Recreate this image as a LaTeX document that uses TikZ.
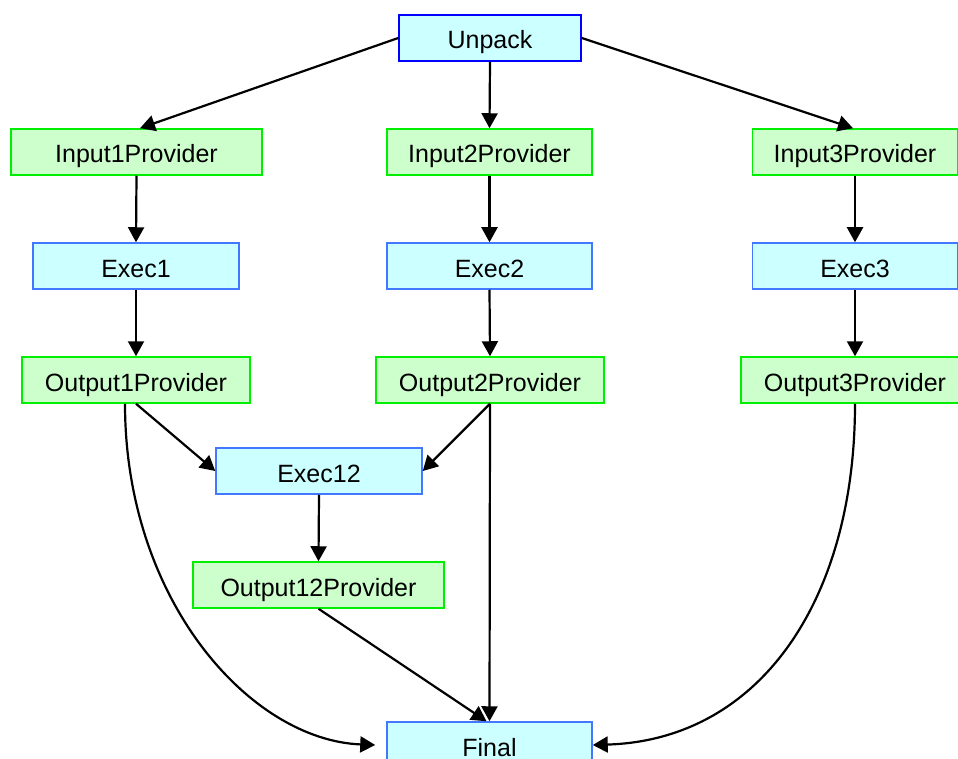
\documentclass[tikz,border=0pt]{standalone}
\usepackage{fontspec}
\setmainfont{Liberation Sans}
\usetikzlibrary{arrows.meta,calc}
\definecolor{cyanfill}{HTML}{CCFFFF}
\definecolor{greenfill}{HTML}{CCFFCC}
\definecolor{greenline}{HTML}{00EE00}
\definecolor{blueline}{HTML}{0000FF}
\definecolor{execline}{HTML}{4477FF}
\tikzset{
  box/.style={rectangle, minimum height=46pt, inner sep=0pt, line width=1.5pt,
    text height=22pt, text depth=0pt, font=\fontsize{25}{29}\selectfont},
  topbox/.style={box, draw=blueline, fill=cyanfill},
  execbox/.style={box, draw=execline, fill=cyanfill},
  provbox/.style={box, draw=greenline, fill=greenfill},
  conn/.style={line width=2.2pt, -{Triangle[length=15pt,width=16pt]}}
}
\begin{document}
\begin{tikzpicture}[x=1pt,y=-1pt]
\useasboundingbox (0,0) rectangle (958,759);
\node[topbox, minimum width=182pt] (unpack) at (490,38) {Unpack};
\node[provbox, minimum width=251pt] (in1) at (136.5,152) {Input1Provider};
\node[provbox, minimum width=205pt] (in2) at (489.5,152) {Input2Provider};
\node[provbox, minimum width=205pt] (in3) at (855,152) {Input3Provider};
\node[execbox, minimum width=206pt] (ex1) at (136,266) {Exec1};
\node[execbox, minimum width=205pt] (ex2) at (489.5,266) {Exec2};
\node[execbox, minimum width=205pt] (ex3) at (855,266) {Exec3};
\node[provbox, minimum width=228pt] (out1) at (136,380) {Output1Provider};
\node[provbox, minimum width=228pt] (out2) at (490,380) {Output2Provider};
\node[provbox, minimum width=228pt] (out3) at (855,380) {Output3Provider};
\node[execbox, minimum width=206pt] (ex12) at (319,471) {Exec12};
\node[provbox, minimum width=251pt] (out12) at (318.5,585) {Output12Provider};
\node[execbox, minimum width=205pt] (final) at (489.5,745) {Final};

\coordinate (finL) at ($(final.west)+(-11,0)$);

\draw[conn] (unpack.west) -- ($(in1.north)+(3.5,0)$);
\draw[conn] (unpack.south) -- (in2.north);
\draw[conn] (unpack.east) -- ($(in3.north)+(-2,0)$);
\draw[conn] (in1.south) -- (ex1.north);
\draw[conn] (in2.south) -- (ex2.north);
\draw[conn] (in3.south) -- (ex3.north);
\draw[conn] (ex1.south) -- (out1.north);
\draw[conn] (ex2.south) -- (out2.north);
\draw[conn] (ex3.south) -- (out3.north);
\draw[conn] (out1.south) -- (ex12.west);
\draw[conn] (out2.south) -- (ex12.east);
\draw[conn] (ex12.south) -- (out12.north);
\draw[conn] (out2.south) -- (final.north);
\draw[conn] (out12.south) -- ($(final.north)+(-3,0)$);
\draw[conn] ($(out1.south)+(-11,0)$) .. controls (125,600) and (250,740) .. (finL);
\draw[conn] (out3.south) .. controls (855,600) and (760,740) .. (final.east);
\end{tikzpicture}
\end{document}
